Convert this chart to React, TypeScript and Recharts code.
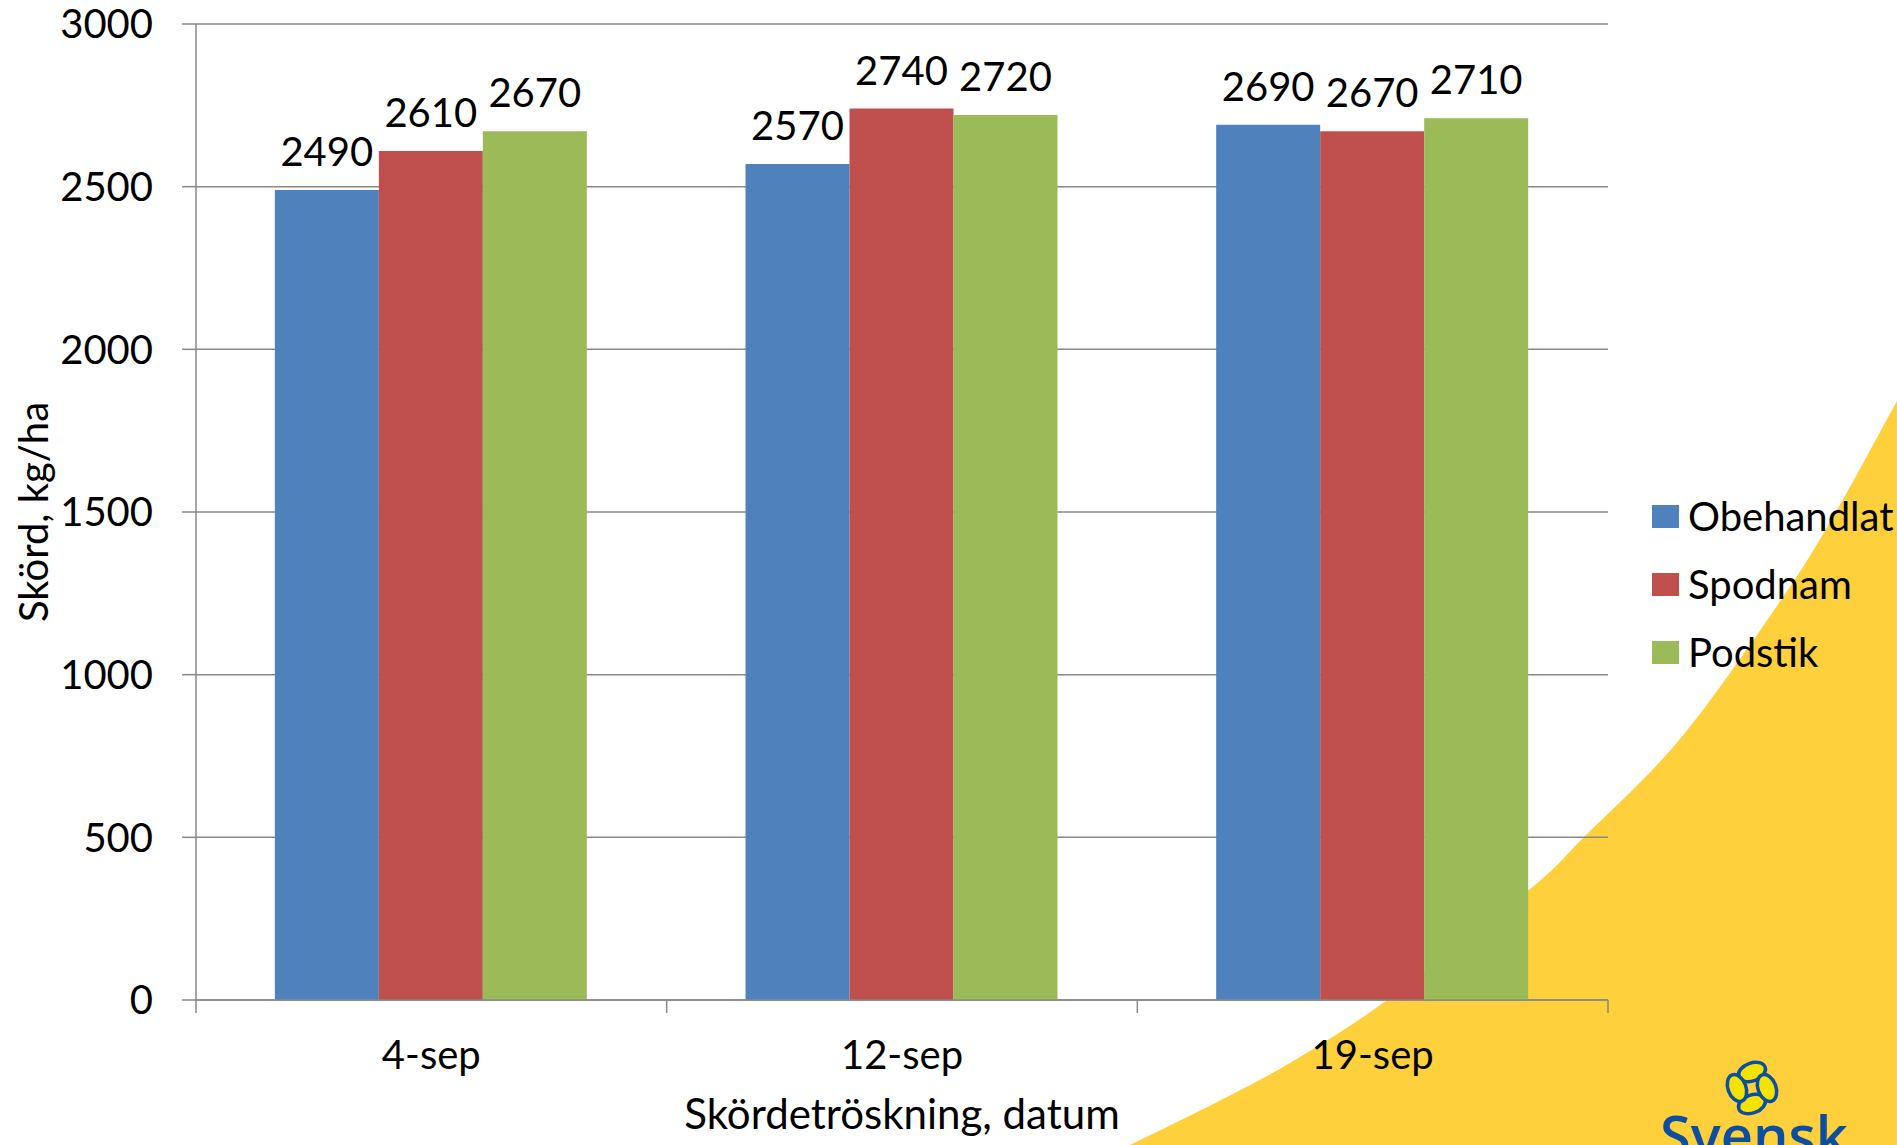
import React from 'react';
import { BarChart, Bar, XAxis, YAxis, CartesianGrid, LabelList } from 'recharts';

// values
const CATEGORIES = ['4-sep', '12-sep', '19-sep'];
const OBEHANDLAT = [2490, 2570, 2690];
const SPODNAM = [2610, 2740, 2670];
const PODSTIK = [2670, 2720, 2710];
const SERIES_NAMES = ['Obehandlat', 'Spodnam', 'Podstik'];
const SERIES_KEYS = ['obehandlat', 'spodnam', 'podstik'];
const Y_TICKS = [0, 500, 1000, 1500, 2000, 2500, 3000];

const COLORS = ['#4F81BD', '#C0504D', '#9BBB59'];
const FONT = 'Lato, "Noto Sans", sans-serif';
const GRID = '#888888';

// decorative yellow swoosh behind the chart (page pixels)
const SWOOSH = [
  [1130, 1145], [1227, 1097], [1300, 1057], [1387, 1000], [1530, 889],
  [1585, 836], [1680, 739], [1781, 600], [1833, 517], [1897, 401],
];

const chartData = CATEGORIES.map((name, i) => ({
  name,
  obehandlat: OBEHANDLAT[i],
  spodnam: SPODNAM[i],
  podstik: PODSTIK[i],
}));

// catmull-rom through the swoosh points
const smoothPath = (pts: number[][]) => {
  let d = `M${pts[0][0]} ${pts[0][1]}`;
  for (let i = 0; i < pts.length - 1; i++) {
    const p0 = pts[Math.max(i - 1, 0)];
    const p1 = pts[i];
    const p2 = pts[i + 1];
    const p3 = pts[Math.min(i + 2, pts.length - 1)];
    const c1x = p1[0] + (p2[0] - p0[0]) / 6;
    const c1y = p1[1] + (p2[1] - p0[1]) / 6;
    const c2x = p2[0] - (p3[0] - p1[0]) / 6;
    const c2y = p2[1] - (p3[1] - p1[1]) / 6;
    d += ` C${c1x} ${c1y} ${c2x} ${c2y} ${p2[0]} ${p2[1]}`;
  }
  return d + ' L1897 1145 Z';
};

// category ticks: boundary tick marks + centred label
const CategoryTick = (props: any) => {
  const { x, y, payload, index, visibleTicksCount, width } = props;
  const half = payload && payload.offset ? payload.offset : width ? width / CATEGORIES.length / 2 : 0;
  const last = index === (visibleTicksCount ?? CATEGORIES.length) - 1;
  return (
    <g>
      <line x1={x - half} x2={x - half} y1={y} y2={y + 13} stroke={GRID} strokeWidth={1.5} />
      {last && <line x1={x + half} x2={x + half} y1={y} y2={y + 13} stroke={GRID} strokeWidth={1.5} />}
      <text x={x} y={y + 69} textAnchor="middle" fontSize={40} fill="#000" fontFamily={FONT}>
        {payload.value}
      </text>
    </g>
  );
};

const Background = () => (
  <svg width={1897} height={1145} style={{ position: 'absolute', left: 0, top: 0 }}>
    <path d={smoothPath(SWOOSH)} fill="#FED03B" />
    <g stroke="#0B4EA2" strokeWidth={3.5} fill="#F4E200">
      <ellipse cx={1752} cy={1072} rx={14} ry={9} transform="rotate(-20 1752 1072)" />
      <ellipse cx={1752} cy={1104} rx={14} ry={9} transform="rotate(-20 1752 1104)" />
      <ellipse cx={1737} cy={1088} rx={9} ry={14} transform="rotate(-20 1737 1088)" />
      <ellipse cx={1767} cy={1088} rx={9} ry={14} transform="rotate(-20 1767 1088)" />
    </g>
    <text x={1660} y={1156} fontSize={56} fontWeight={600} fill="#0B4EA2" fontFamily='"Open Sans", sans-serif'>
      Svensk
    </text>
  </svg>
);

const LegendBox = () => (
  <div style={{ position: 'absolute', left: 1652, top: 482, fontFamily: FONT, fontSize: 40, color: '#000' }}>
    {SERIES_NAMES.map((name, i) => (
      <div key={name} style={{ height: 68, display: 'flex', alignItems: 'center' }}>
        <span style={{ display: 'inline-block', width: 27, height: 23, background: COLORS[i], marginRight: 9 }} />
        <span>{name}</span>
      </div>
    ))}
  </div>
);

export default function App() {
  return (
    <div
      style={{
        position: 'absolute',
        left: 0,
        top: 0,
        width: 1897,
        height: 1145,
        overflow: 'hidden',
        background: '#fff',
        fontFamily: FONT,
      }}
    >
      <Background />
      <div style={{ position: 'absolute', left: 0, top: 0 }}>
        <BarChart
          width={1897}
          height={1145}
          data={chartData}
          margin={{ top: 24, right: 289, left: 0, bottom: 0 }}
          barCategoryGap="16.75%"
          barGap={0}
        >
          <CartesianGrid vertical={false} stroke={GRID} strokeWidth={1.5} />
          <XAxis
            dataKey="name"
            height={145}
            tickLine={false}
            tickSize={0}
            tickMargin={0}
            interval={0}
            axisLine={{ stroke: GRID, strokeWidth: 1.5 }}
            tick={<CategoryTick />}
            label={{
              value: 'Skördetröskning, datum',
              position: 'center',
              dy: 42,
              fontSize: 42,
              fill: '#000',
              fontFamily: FONT,
            }}
          />
          <YAxis
            width={196}
            domain={[0, 3000]}
            ticks={Y_TICKS}
            interval={0}
            tickSize={14}
            tickMargin={29}
            tickLine={{ stroke: GRID, strokeWidth: 1.5 }}
            axisLine={{ stroke: GRID, strokeWidth: 1.5 }}
            tick={{ fontSize: 40, fill: '#000', fontFamily: FONT }}
            label={{
              value: 'Skörd, kg/ha',
              angle: -90,
              position: 'center',
              dx: -64,
              fontSize: 40,
              fill: '#000',
              fontFamily: FONT,
            }}
          />
          {SERIES_KEYS.map((key, i) => (
            <Bar key={key} dataKey={key} name={SERIES_NAMES[i]} fill={COLORS[i]} isAnimationActive={false}>
              <LabelList dataKey={key} position="top" offset={24} fontSize={40} fill="#000" fontFamily={FONT} />
            </Bar>
          ))}
        </BarChart>
      </div>
      <LegendBox />
    </div>
  );
}
